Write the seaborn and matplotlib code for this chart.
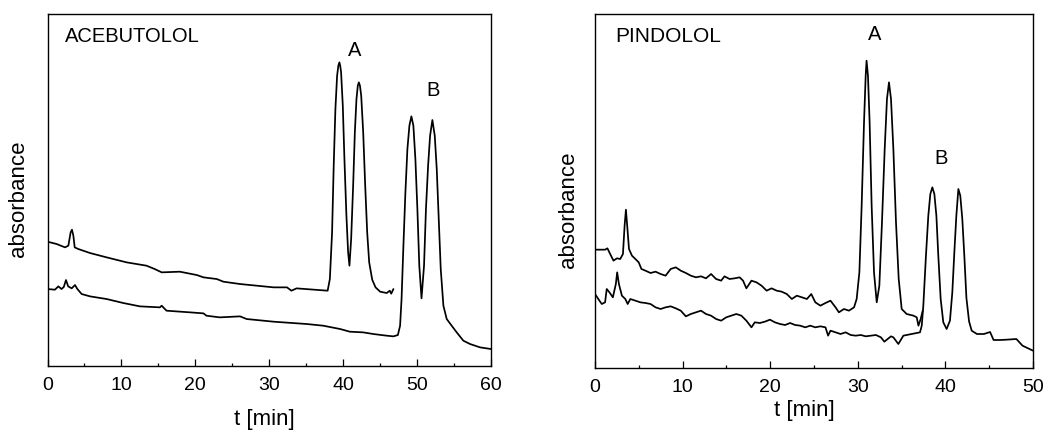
import matplotlib
matplotlib.use("Agg")
import matplotlib.pyplot as plt
from matplotlib.ticker import MultipleLocator
import seaborn as sns

sns.set_theme(style="white")
plt.rcParams['font.family'] = ['Liberation Sans', 'DejaVu Sans']
plt.rcParams['text.color'] = 'black'
plt.rcParams['axes.labelcolor'] = 'black'
plt.rcParams['xtick.color'] = 'black'

# acebutolol, run that stops near 47 min (peaks A)
ace_a_t = [0, 1.24, 2.37, 2.82, 3.13, 3.31, 3.5, 3.68, 4.17, 5.75,
           8.0, 10.7, 13.4, 14.5, 15.45, 17.9, 20.2, 21.1, 22.9, 23.8,
           26.05, 30.6, 32.4, 33.0, 33.7, 37.9, 38.2, 38.5, 38.72, 38.95,
           39.18, 39.35, 39.49, 39.6, 39.72, 39.95, 40.17, 40.44, 40.67, 40.85,
           41.08, 41.35, 41.58, 41.8, 41.98, 42.12, 42.27, 42.44, 42.71, 42.98,
           43.25, 43.52, 43.93, 44.38, 45.0, 45.9, 46.3, 46.5, 46.8]
ace_a_v = [372, 365, 355, 360, 400, 408, 390, 355, 350, 338,
           325, 310, 300, 290, 280, 282, 272, 265, 260, 252,
           245, 235, 235, 225, 232, 225, 260, 400, 600, 770,
           870, 900, 910, 900, 880, 780, 620, 450, 340, 300,
           380, 540, 700, 800, 840, 850, 840, 810, 700, 540,
           400, 310, 258, 235, 222, 218, 225, 216, 230]

# acebutolol, run to 60 min (peaks B)
ace_b_t = [0, 1.0, 1.47, 1.9, 2.2, 2.5, 2.8, 3.27, 3.72, 4.04,
           4.62, 5.75, 8.0, 10.26, 12.5, 15.2, 15.45, 16.1, 19.3, 21.1,
           21.5, 23.3, 26.05, 26.95, 30.6, 35.1, 37.3, 39.6, 40.9, 42.7,
           44.1, 45.9, 46.8, 47.4, 47.7, 47.9, 48.15, 48.42, 48.69, 48.96,
           49.23, 49.5, 49.77, 50.04, 50.3, 50.6, 50.94, 51.2, 51.49, 51.76,
           52.07, 52.39, 52.66, 52.93, 53.2, 53.56, 54.01, 54.68, 55.36, 56.26,
           57.17, 58.52, 60]
ace_b_v = [230, 228, 238, 230, 236, 257, 238, 232, 242, 230,
           215, 208, 200, 188, 178, 175, 180, 165, 160, 157,
           150, 145, 148, 140, 132, 125, 120, 110, 102, 100,
           95, 90, 88, 92, 120, 200, 360, 520, 650, 720,
           748, 720, 620, 470, 300, 202, 300, 470, 600, 690,
           737, 690, 590, 440, 290, 180, 140, 120, 100, 75,
           65, 55, 50]

# pindolol, upper run (peaks A)
pin_a_t = [0, 1.15, 1.42, 1.73, 2.11, 2.5, 2.88, 3.19, 3.38, 3.53,
           3.69, 3.88, 4.22, 4.61, 4.99, 5.3, 5.76, 6.34, 6.91, 7.49,
           8.06, 8.64, 9.22, 9.79, 10.37, 10.94, 11.52, 12.1, 12.67, 13.25,
           13.82, 14.4, 14.78, 15.36, 15.94, 16.51, 16.9, 17.28, 17.86, 18.43,
           19.01, 19.59, 20.16, 20.74, 21.31, 21.89, 22.47, 23.04, 23.62, 24.19,
           24.69, 25.15, 25.73, 26.31, 26.88, 27.46, 27.84, 28.42, 28.99, 29.57,
           29.87, 30.18, 30.44, 30.71, 30.9, 31.0, 31.16, 31.35, 31.58, 31.85,
           32.16, 32.46, 32.76, 33.07, 33.33, 33.56, 33.79, 34.06, 34.36, 34.67,
           35.01, 35.58, 36.35, 36.73, 36.92, 37.18, 37.41]
pin_a_v = [355, 355, 359, 342, 322, 329, 327, 342, 427, 475,
           422, 357, 337, 327, 317, 297, 292, 285, 289, 282,
           277, 297, 302, 292, 285, 277, 272, 275, 269, 282,
           267, 262, 275, 267, 269, 272, 262, 239, 262, 257,
           247, 232, 239, 232, 229, 222, 207, 217, 212, 207,
           222, 197, 187, 195, 202, 182, 167, 177, 172, 182,
           207, 287, 487, 737, 877, 922, 877, 737, 487, 287,
           197, 247, 437, 657, 807, 857, 807, 657, 437, 267,
           177, 162, 157, 152, 127, 147, 172]

# pindolol, lower run (peaks B)
pin_b_t = [0, 0.38, 0.77, 1.15, 1.34, 1.65, 2.04, 2.38, 2.53, 2.73,
           3.07, 3.46, 3.73, 4.03, 4.61, 5.18, 5.76, 6.34, 6.91, 7.49,
           8.06, 8.64, 9.22, 9.79, 10.37, 10.94, 11.52, 12.1, 12.67, 13.25,
           13.82, 14.4, 14.98, 15.55, 16.13, 16.71, 17.28, 17.86, 18.24, 18.82,
           19.39, 19.97, 20.54, 21.12, 21.7, 22.27, 22.85, 23.43, 24.0, 24.58,
           25.15, 25.73, 26.31, 26.61, 26.88, 27.46, 28.03, 28.61, 29.19, 29.76,
           30.34, 30.91, 31.49, 32.07, 32.64, 33.03, 33.41, 33.79, 34.06, 34.63,
           35.2, 36.15, 37.1, 37.3, 37.48, 37.78, 38.05, 38.28, 38.51, 38.74,
           38.97, 39.19, 39.46, 39.76, 40.14, 40.52, 40.79, 41.02, 41.25, 41.48,
           41.7, 41.93, 42.16, 42.4, 42.7, 43.0, 43.6, 44.4, 45.1, 45.5,
           46.2, 47.0, 48.1, 48.8, 49.6, 50.0]
pin_b_v = [222, 207, 192, 197, 237, 227, 212, 252, 287, 252,
           217, 207, 192, 207, 202, 197, 195, 192, 182, 177,
           182, 185, 179, 172, 155, 162, 167, 172, 162, 157,
           147, 142, 152, 157, 162, 157, 142, 122, 137, 135,
           139, 145, 137, 132, 129, 135, 129, 127, 122, 127,
           122, 125, 122, 97, 112, 107, 102, 107, 99, 97,
           99, 95, 97, 99, 92, 79, 87, 95, 92, 72,
           97, 102, 107, 127, 187, 337, 457, 522, 542, 522,
           457, 337, 207, 137, 117, 142, 227, 347, 457, 537,
           517, 447, 337, 210, 140, 112, 102, 102, 108, 84,
           84, 85, 87, 67, 57, 52]

W, H = 1047, 435
fig = plt.figure(figsize=(W / 100, H / 100), dpi=100)
ax1 = fig.add_axes([47.5 / W, (H - 366.7) / H, (491 - 47.5) / W, (366.7 - 15) / H])
ax2 = fig.add_axes([595 / W, (H - 369) / H, (1033 - 595) / W, (369 - 15) / H])

for ax, runs, xmax, ymax in [
        (ax1, [(ace_a_t, ace_a_v), (ace_b_t, ace_b_v)], 60, 1055),
        (ax2, [(pin_a_t, pin_a_v), (pin_b_t, pin_b_v)], 50, 1062)]:
    for t, v in runs:
        sns.lineplot(x=t, y=v, ax=ax, color='black', linewidth=1.25,
                     estimator=None, sort=False)
    ax.set_xlim(0, xmax)
    ax.set_ylim(0, ymax)
    ax.set_yticks([])
    ax.xaxis.set_major_locator(MultipleLocator(10))
    ax.xaxis.set_minor_locator(MultipleLocator(5))
    ax.tick_params(axis='x', which='both', direction='in', bottom=True, top=False,
                   labelsize=14, pad=7.5, colors='black', width=0.9)
    ax.tick_params(axis='x', which='major', length=4.8)
    ax.tick_params(axis='x', which='minor', length=2.4)
    for s in ax.spines.values():
        s.set_visible(True)
        s.set_color('black')
        s.set_linewidth(1.0)
    ax.set_xlabel('t [min]', fontsize=16, va='center', color='black')
    ax.set_ylabel('absorbance', fontsize=16, va='center', color='black')

ax1.xaxis.set_label_coords(0.490, -0.149)
ax1.yaxis.set_label_coords(-0.066, 0.478)
ax2.xaxis.set_label_coords(0.477, -0.116)
ax2.yaxis.set_label_coords(-0.061, 0.45)

ax1.text(2.3, 992, 'ACEBUTOLOL', fontsize=14.5, ha='left', va='center', color='black')
ax1.text(41.6, 950, 'A', fontsize=14.5, ha='center', va='center', color='black')
ax1.text(52.2, 830, 'B', fontsize=14.5, ha='center', va='center', color='black')

ax2.text(2.3, 996, 'PINDOLOL', fontsize=15, ha='left', va='center', color='black')
ax2.text(31.9, 1002, 'A', fontsize=14.5, ha='center', va='center', color='black')
ax2.text(39.5, 630, 'B', fontsize=14.5, ha='center', va='center', color='black')

fig.savefig('out.png', dpi=100)
